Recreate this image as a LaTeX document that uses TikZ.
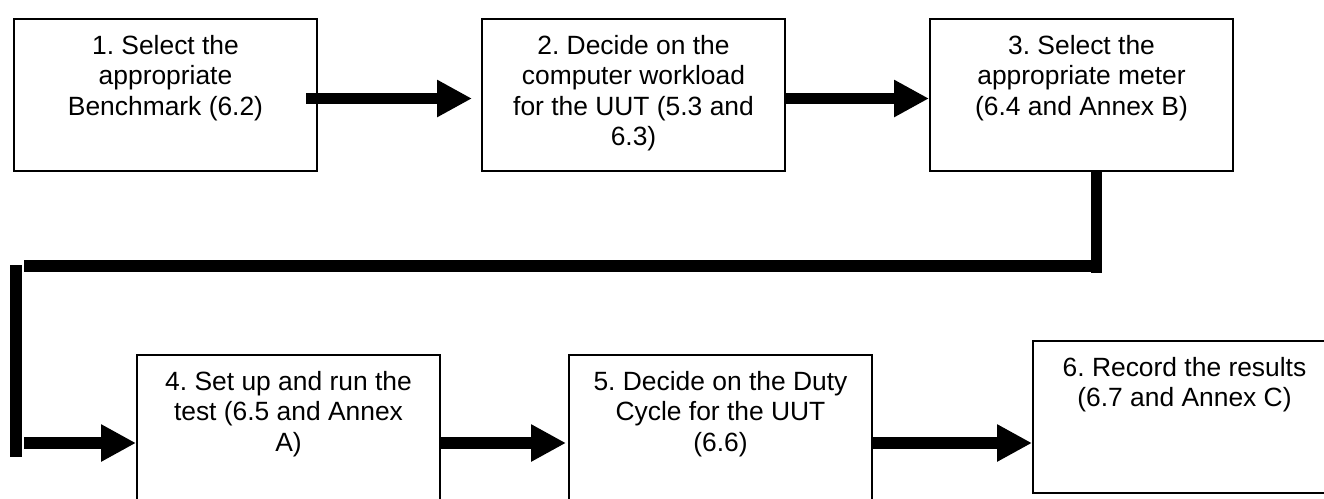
\documentclass[tikz,border=0pt]{standalone}
\usepackage{fontspec}
\setmainfont{Liberation Sans}
\usetikzlibrary{arrows.meta}
\frenchspacing
\tikzset{
  stepbox/.style={draw=black, line width=2pt, inner sep=0pt, anchor=north west,
    minimum width=303pt, minimum height=#1},
  stepbox/.default=152pt,
  steptext/.style={font=\fontsize{26.4}{30.4}\selectfont\frenchspacing, align=center, inner sep=0pt, anchor=north},
  conn/.style={line width=11.7pt, draw=black},
  arr/.style={conn, -{Triangle[length=35pt,width=35pt]}}
}
\newcommand{\fl}{\rule{0pt}{20pt}}
\begin{document}
\begin{tikzpicture}[x=1pt,y=-1pt]
\useasboundingbox (0,0) rectangle (1324,498);
\clip (0,0) rectangle (1324,498);
% boxes
\node[stepbox] (b1) at (13,18) {};
\node[stepbox] (b2) at (481,18) {};
\node[stepbox] (b3) at (929,18) {};
\node[stepbox=170pt] (b4) at (136,354) {};
\node[stepbox=170pt] (b5) at (568,354) {};
\node[stepbox] (b6) at (1032,340) {};
% texts
\node[steptext] (t1) at ([yshift=-16pt]b1.north) {\fl 1. Select the\\appropriate\\Benchmark (6.2)};
\node[steptext] (t2) at ([yshift=-16pt]b2.north) {\fl 2. Decide on the\\computer workload\\for the UUT (5.3 and\\6.3)};
\node[steptext] (t3) at ([yshift=-16pt]b3.north) {\fl 3. Select the\\appropriate meter\\(6.4 and Annex B)};
\node[steptext] (t4) at ([yshift=-16pt]b4.north) {\fl 4. Set up and run the\\test (6.5 and Annex\\A)};
\node[steptext] (t5) at ([yshift=-16pt]b5.north) {\fl 5. Decide on the Duty\\Cycle for the UUT\\(6.6)};
\node[steptext] (t6) at ([yshift=-16pt]b6.north) {\fl 6. Record the results\\(6.7 and Annex C)};
% connector coordinates
\coordinate (k1) at (1096.5,273.3);
\coordinate (k2) at (1096.5,266);
\coordinate (k3) at (24,266);
\coordinate (k4) at (16.3,265);
\coordinate (k5) at (16.3,457);
\coordinate (k6) at (24,443);
% top row arrows
\draw[arr] ([xshift=-12pt,yshift=-3.5pt]b1.east) -- ([xshift=-9pt,yshift=-3.5pt]b2.west);
\draw[arr] ([yshift=-3.5pt]b2.east) -- ([yshift=-3.5pt]b3.west);
% return connector
\draw[conn] (b3.south -| k1) -- (k1);
\draw[conn] (k2) -- (k3);
\draw[conn] (k4) -- (k5);
\draw[arr] (k6) -- (k6 -| b4.west);
% bottom row arrows
\draw[arr] (k6 -| b4.east) -- ([xshift=-2pt]k6 -| b5.west);
\draw[arr] (k6 -| b5.east) -- (k6 -| b6.west);
\end{tikzpicture}
\end{document}
